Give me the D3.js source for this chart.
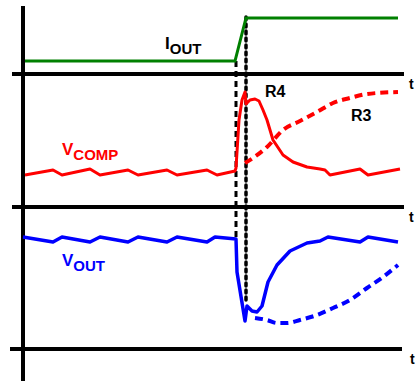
<!DOCTYPE html>
<html>
<head>
<meta charset="utf-8">
<script src="https://cdn.jsdelivr.net/npm/d3@7"></script>
<style>
  html, body { margin: 0; padding: 0; background: #fff; }
  svg { display: block; }
  text { font-family: "Liberation Sans", Arial, Helvetica, sans-serif; font-weight: bold; }
</style>
</head>
<body>
<svg id="chart" width="417" height="381"></svg>
<script>
// ---- Data (time in arbitrary units, values in arbitrary panel units) ----
const ioutT = [0.5, 53, 55.75, 93.75];
const ioutV = [1.3, 1.3, 5.6, 5.6];

const vcompT = [0.5, 7.5, 9.75, 16.75, 19.25, 26.25, 28.75, 36, 38.5, 46, 48.5, 53, 53.25, 54, 54.75, 55.5, 55.75, 56.75, 58, 59, 60, 61, 62.5, 65, 67.5, 71, 74.25, 75.5, 76.75, 84.25, 86.25, 94.25];
const vcompV = [3.2, 3.7, 3.2, 3.8, 3.2, 3.7, 3.2, 3.7, 3.2, 3.7, 3.2, 3.6, 3.9, 8.7, 10.7, 11.5, 10.3, 10.7, 10.8, 10.6, 9.7, 8.7, 6.7, 5.2, 4.5, 4.0, 3.8, 3.7, 3.2, 3.8, 3.2, 3.8];

const vcompR3T = [55.5, 57.5, 61, 65, 69.25, 73.5, 77.5, 81.75, 86, 93.75];
const vcompR3V = [4.4, 4.9, 6.0, 7.7, 8.6, 9.5, 10.4, 10.9, 11.3, 11.5];

const voutT = [0, 7.5, 9.75, 16.75, 19.25, 26.25, 28.75, 36, 38.5, 46, 48, 53.25, 53.5, 55.5, 56, 57.25, 58.5, 59.75, 61.25, 63.5, 66.75, 71, 74.25, 76.25, 84.25, 86.25, 93.75];
const voutV = [11.2, 10.7, 11.2, 10.7, 11.2, 10.7, 11.2, 10.7, 11.2, 10.7, 11.2, 11.0, 7.7, 2.8, 4.3, 3.8, 3.7, 4.3, 6.7, 8.4, 9.8, 10.6, 10.8, 11.2, 10.7, 11.2, 10.7];

const voutR3T = [58, 61, 63.5, 66, 69.25, 73.5, 77.5, 81.75, 86, 90, 93.75];
const voutR3V = [3.1, 2.9, 2.6, 2.6, 2.9, 3.4, 4.1, 4.9, 6.1, 7.2, 8.4];

// vertical marker lines: time, start (top panel value), end (bottom panel value)
const markerT = [53.25, 55.75];
const markerTopV = [1.3, 5.7];
const markerBotV = [11.0, 4.7];

const labels = ["I", "OUT", "V", "COMP", "V", "OUT", "R4", "R3", "t"];

// ---- Scales ----
const svg = d3.select("#chart");
const x = d3.scaleLinear().domain([0, 95]).range([23, 403]);
const yTop = d3.scaleLinear().domain([0, 10]).range([74, -26]);
const yMid = d3.scaleLinear().domain([0, 10]).range([207, 107]);
const yBot = d3.scaleLinear().domain([0, 10]).range([349, 249]);

function pts(ts, vs) { return ts.map((t, i) => [t, vs[i]]); }
function lineGen(y) { return d3.line().x(d => x(d[0])).y(d => y(d[1])); }

// ---- Axes (baselines) ----
const axisG = svg.append("g").attr("stroke", "#000").attr("stroke-width", 4);
axisG.append("line").attr("x1", x(-2.75)).attr("x2", x(95.25)).attr("y1", yTop(0)).attr("y2", yTop(0));
axisG.append("line").attr("x1", x(-2.75)).attr("x2", x(95.25)).attr("y1", yMid(0)).attr("y2", yMid(0));
axisG.append("line").attr("x1", x(-3.25)).attr("x2", x(94.75)).attr("y1", yBot(0)).attr("y2", yBot(0));
axisG.append("line").attr("x1", x(0)).attr("x2", x(0)).attr("y1", yTop(6.8)).attr("y2", 381);

// ---- Marker lines ----
svg.append("line")
  .attr("x1", x(markerT[0])).attr("x2", x(markerT[0]))
  .attr("y1", yTop(markerTopV[0])).attr("y2", yBot(markerBotV[0]))
  .attr("stroke", "#000").attr("stroke-width", 3).attr("stroke-dasharray", "6,4");
svg.append("line")
  .attr("x1", x(markerT[1])).attr("x2", x(markerT[1]))
  .attr("y1", yTop(markerTopV[1])).attr("y2", yBot(markerBotV[1]))
  .attr("stroke", "#000").attr("stroke-width", 3.5).attr("stroke-dasharray", "3,4")
  .attr("stroke-linecap", "round");

// ---- Series ----
svg.append("path").datum(pts(ioutT, ioutV)).attr("d", lineGen(yTop))
  .attr("fill", "none").attr("stroke", "#008000").attr("stroke-width", 3);

svg.append("path").datum(pts(vcompR3T, vcompR3V)).attr("d", lineGen(yMid).curve(d3.curveMonotoneX))
  .attr("fill", "none").attr("stroke", "#ff0000").attr("stroke-width", 4).attr("stroke-dasharray", "8,5");
svg.append("path").datum(pts(vcompT, vcompV)).attr("d", lineGen(yMid))
  .attr("fill", "none").attr("stroke", "#ff0000").attr("stroke-width", 3).attr("stroke-linejoin", "round");

svg.append("path").datum(pts(voutR3T, voutR3V)).attr("d", lineGen(yBot).curve(d3.curveMonotoneX))
  .attr("fill", "none").attr("stroke", "#0000ff").attr("stroke-width", 4).attr("stroke-dasharray", "8,5");
svg.append("path").datum(pts(voutT, voutV)).attr("d", lineGen(yBot))
  .attr("fill", "none").attr("stroke", "#0000ff").attr("stroke-width", 3.5).attr("stroke-linejoin", "round");

// ---- Labels ----
function subLabel(px, py, main, sub, color) {
  const t = svg.append("text").attr("x", px).attr("y", py).attr("fill", color).attr("font-size", 17);
  t.append("tspan").text(main);
  t.append("tspan").attr("dy", 5).attr("font-size", 15).text(sub);
}
subLabel(165, 49, labels[0], labels[1], "#000");
subLabel(62, 155, labels[2], labels[3], "#ff0000");
subLabel(62, 266, labels[4], labels[5], "#0000ff");

svg.append("text").attr("x", 265).attr("y", 97).attr("font-size", 16).attr("fill", "#000").text(labels[6]);
svg.append("text").attr("x", 351).attr("y", 121).attr("font-size", 16).attr("fill", "#000").text(labels[7]);

[yTop(0), yMid(0), yBot(0)].forEach((yy, i) => {
  svg.append("text").attr("x", i === 2 ? 410 : 409).attr("y", yy + 15).attr("font-size", 14).attr("fill", "#000").text(labels[8]);
});
</script>
</body>
</html>
